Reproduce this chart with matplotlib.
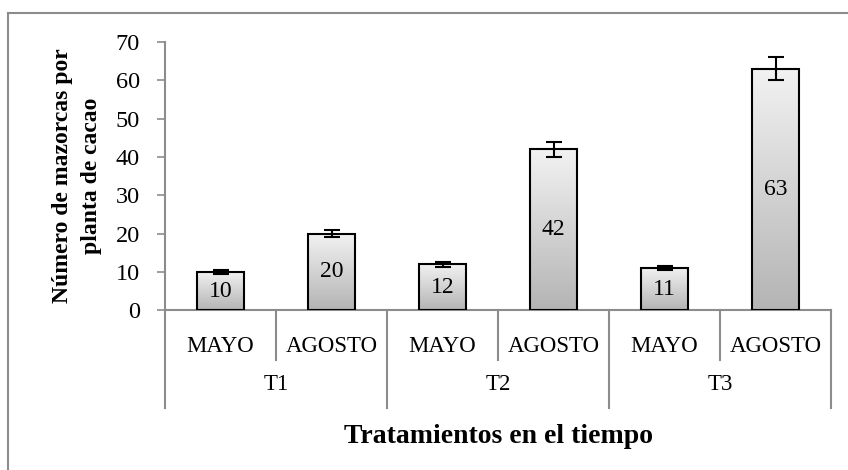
import numpy as np
import matplotlib
matplotlib.use('Agg')
import matplotlib.pyplot as plt
from matplotlib.lines import Line2D
from matplotlib.colors import LinearSegmentedColormap
from matplotlib.transforms import blended_transform_factory

# datos
grupos = ['T1', 'T2', 'T3']
meses = ['MAYO', 'AGOSTO']
valores = [10, 20, 12, 42, 11, 63]
errores = [0.5, 1, 0.6, 2, 0.6, 3]
yticks = [0, 10, 20, 30, 40, 50, 60, 70]

plt.rcParams['font.family'] = ['Liberation Serif', 'DejaVu Serif']

fig = plt.figure(figsize=(8.48, 4.70), dpi=100)
ax = fig.add_axes([0.1946, 0.340, 0.7854, 0.5706])

# borde exterior (solo arriba e izquierda visibles)
fig.add_artist(Line2D([8 / 848, 8 / 848], [0, 1 - 13 / 470], transform=fig.transFigure,
                      color='#8c8c8c', lw=1.5))
fig.add_artist(Line2D([8 / 848, 1], [1 - 13 / 470, 1 - 13 / 470], transform=fig.transFigure,
                      color='#8c8c8c', lw=1.5))

x = np.arange(len(valores))
bars = ax.bar(x, valores, width=0.42, facecolor='none', edgecolor='black', lw=1.5, zorder=3)

# relleno degradado (claro arriba, oscuro abajo)
grad = np.linspace(0, 1, 256).reshape(-1, 1)
cmap = LinearSegmentedColormap.from_list('g', ['#f2f2f2', '#b4b4b4'])
for b in bars:
    x0, y0, w, h = b.get_x(), b.get_y(), b.get_width(), b.get_height()
    im = ax.imshow(grad, cmap=cmap, vmin=0, vmax=1, aspect='auto',
                   extent=[x0, x0 + w, y0, y0 + h], origin='upper', zorder=2)
    im.set_clip_path(b)

ax.errorbar(x, valores, yerr=errores, fmt='none', ecolor='black', elinewidth=1.5,
            capsize=6, capthick=1.5, zorder=4)

for xi, v in zip(x, valores):
    ax.text(xi, v / 2, str(v), ha='center', va='center', fontsize=17, zorder=5)

ax.set_xlim(-0.5, len(valores) - 0.5)
ax.set_ylim(0, 70)
ax.set_yticks(yticks)
ax.tick_params(axis='y', labelsize=17.5, length=6, width=1.2, color='#8c8c8c', pad=12)
ax.set_xticks([])

for s in ['top', 'right']:
    ax.spines[s].set_visible(False)
for s in ['left', 'bottom']:
    ax.spines[s].set_color('#8c8c8c')
    ax.spines[s].set_linewidth(1.5)

# eje de categorias de dos niveles
tr = blended_transform_factory(ax.transData, ax.transAxes)
ph = 268.0  # alto del area de trazado en px
for i in range(len(valores) + 1):
    largo = 98 if i % 2 == 0 else 50
    ax.add_line(Line2D([i - 0.5, i - 0.5], [0, -largo / ph], transform=tr,
                       color='#8c8c8c', lw=1.5, clip_on=False))
for i in range(len(valores)):
    ax.text(i, -36 / ph, meses[i % 2], transform=tr, ha='center', va='center', fontsize=16.5)
for g, nombre in enumerate(grupos):
    ax.text(2 * g + 0.5, -74 / ph, nombre, transform=tr, ha='center', va='center', fontsize=16.5)

ax.text(2.5, -126 / ph, 'Tratamientos en el tiempo', transform=tr, ha='center', va='center',
        fontsize=20, fontweight='bold')
ax.set_ylabel('Número de mazorcas por\nplanta de cacao', fontsize=17, fontweight='bold',
              linespacing=1.5)
ax.yaxis.set_label_coords(-0.095, 0.5)

fig.savefig('out.png', dpi=100)
